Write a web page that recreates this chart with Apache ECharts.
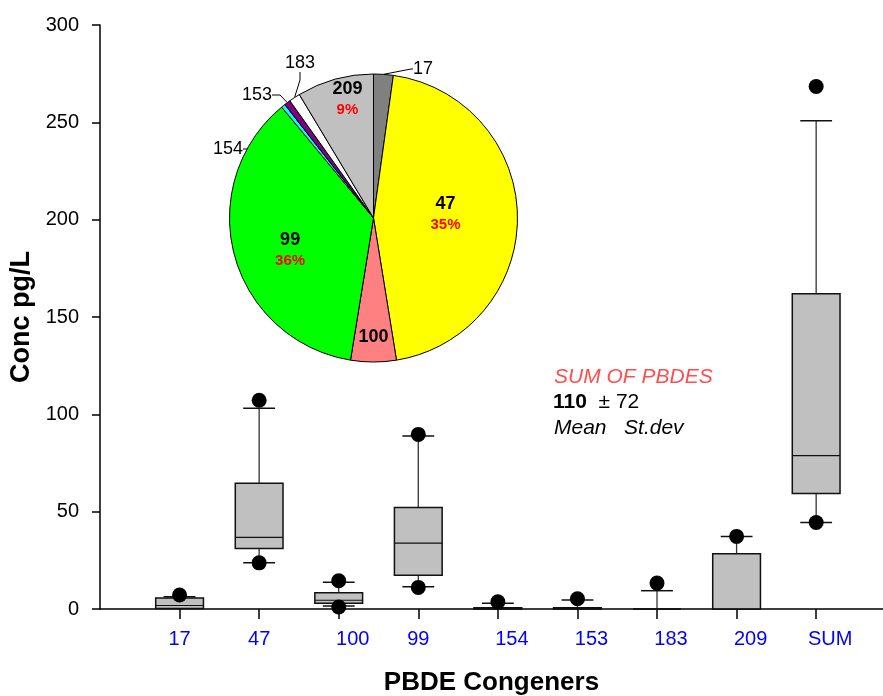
<!DOCTYPE html>
<html>
<head>
<meta charset="utf-8">
<title>PBDE Congeners</title>
<script src="https://cdn.jsdelivr.net/npm/echarts@6/dist/echarts.min.js"></script>
<style>
  html, body { margin: 0; padding: 0; background: #ffffff; }
  #chart { width: 883px; height: 696px; }
</style>
</head>
<body>
<div id="chart"></div>
<script>
// Congeners on the x axis, in plotting order
const categories = ['17', '47', '100', '99', '154', '153', '183', '209', 'SUM'];

// Box plot statistics, pg/L (null = not drawn)
const whiskerLow  = [null, 23.7, 1.5, 11.4, null, null, null, null, 44.4];
const quartile1   = [0.3, 31.1, 2.9, 17.4, 0, 0, 0, 0, 59.3];
const median      = [1.8, 36.8, 4.5, 33.8, 0.2, 0.3, 0, 0, 78.8];
const quartile3   = [5.6, 64.6, 8.4, 52.2, 0.6, 0.7, 0, 28.4, 161.9];
const whiskerHigh = [6.3, 103.1, 13.8, 88.9, 2.9, 4.6, 9.4, 37.3, 250.8];
const outlierLow  = [null, 23.7, 1.0, 11.1, null, null, null, null, 44.4];
const outlierHigh = [7.2, 107.2, 14.5, 89.7, 3.7, 5.3, 13.3, 37.3, 268.4];

// Composition of the sum (inset pie), share in %
const pieNames  = ['17', '47', '100', '99', '154', '153', '183', '209'];
const pieShare  = [2.2, 45.2, 5.1, 36.4, 0.45, 0.7, 1.25, 8.6];
const pieColors = ['#808080', '#ffff00', '#ff8080', '#00ff00', '#00ffff', '#800080', '#ffffff', '#c0c0c0'];
const piePctText = ['', '35%', '', '36%', '', '', '', '9%'];
const pieInside  = [false, true, true, true, false, false, false, true];

// Summary of the total
const sumTitle = 'SUM OF PBDES';
const sumMean = 110;
const sumStdev = 72;

const FONT = '"Liberation Sans", Arial, Helvetica, sans-serif';

const chart = echarts.init(document.getElementById('chart'), null, { renderer: 'canvas' });

const boxData = categories.map((c, k) => [k + 1, whiskerLow[k], quartile1[k], median[k], quartile3[k], whiskerHigh[k]]);
const dotData = [];
categories.forEach((c, k) => {
  if (outlierHigh[k] != null) dotData.push([k + 1, outlierHigh[k]]);
  if (outlierLow[k] != null) dotData.push([k + 1, outlierLow[k]]);
});

function renderBox(params, api) {
  const i = api.value(0);
  const lo = api.value(1), b1 = api.value(2), md = api.value(3), b3 = api.value(4), hi = api.value(5);
  const band = api.size([1, 0])[0];
  const hb = band * 0.3;   // half box width
  const hc = band * 0.2;   // half cap width
  const pTop = api.coord([i, b3]);
  const pBot = api.coord([i, b1]);
  const pMed = api.coord([i, md]);
  const cx = pTop[0];
  const whisker = { stroke: '#333333', lineWidth: 1.3 };
  const cap = { stroke: '#111111', lineWidth: 1.5 };
  const kids = [];
  if (!isNaN(hi)) {
    const pHi = api.coord([i, hi]);
    kids.push({ type: 'line', shape: { x1: cx, y1: pTop[1], x2: cx, y2: pHi[1] }, style: whisker });
    kids.push({ type: 'line', shape: { x1: cx - hc, y1: pHi[1], x2: cx + hc, y2: pHi[1] }, style: cap });
  }
  if (!isNaN(lo)) {
    const pLo = api.coord([i, lo]);
    kids.push({ type: 'line', shape: { x1: cx, y1: pBot[1], x2: cx, y2: pLo[1] }, style: whisker });
    kids.push({ type: 'line', shape: { x1: cx - hc, y1: pLo[1], x2: cx + hc, y2: pLo[1] }, style: cap });
  }
  kids.push({
    type: 'rect',
    shape: { x: cx - hb, y: pTop[1], width: hb * 2, height: pBot[1] - pTop[1] },
    style: { fill: '#c0c0c0', stroke: '#111111', lineWidth: 1.5 }
  });
  kids.push({ type: 'line', shape: { x1: cx - hb, y1: pMed[1], x2: cx + hb, y2: pMed[1] }, style: { stroke: '#111111', lineWidth: 1.2 } });
  return { type: 'group', children: kids };
}

// label placement for the pie (inside ones nudged, outside ones placed beside the slice)
const pieLabelPlace = {
  0: { x: 413, y: 69, align: 'left', verticalAlign: 'middle' },
  1: { dx: -3, dy: -3 },
  2: { dx: 0, dy: 44 },
  3: { dx: -11, dy: 12 },
  4: { x: 228, y: 149, align: 'center', verticalAlign: 'middle' },
  5: { x: 257, y: 95, align: 'center', verticalAlign: 'middle' },
  6: { x: 300, y: 63, align: 'center', verticalAlign: 'middle' },
  7: { dx: -6, dy: -47 }
};

const pieData = pieNames.map((n, k) => ({
  name: n,
  value: pieShare[k],
  pct: piePctText[k],
  itemStyle: { color: pieColors[k] },
  label: pieInside[k]
    ? { position: 'inside' }
    : { position: 'outside', fontSize: 18, fontWeight: 'normal', color: '#000', fontFamily: FONT },
  labelLine: pieInside[k]
    ? { show: false }
    : { show: true, length: 6, length2: k === 0 ? 2 : 8, lineStyle: { color: '#000', width: 1 } }
}));

const option = {
  animation: false,
  backgroundColor: '#ffffff',
  textStyle: { fontFamily: FONT },
  grid: { left: 100, right: 0, top: 25, bottom: 87, containLabel: false, outerBoundsMode: 'none' },
  xAxis: {
    type: 'value',
    min: 0,
    max: 9.84,
    interval: 1,
    name: 'PBDE Congeners',
    nameLocation: 'middle',
    nameGap: 61,
    nameTextStyle: { fontSize: 26, fontWeight: 'bold', color: '#000', fontFamily: FONT },
    axisLine: { show: true, lineStyle: { color: '#000', width: 1.5 } },
    axisTick: { show: true, inside: false, length: 10, lineStyle: { color: '#000', width: 1.5 } },
    axisLabel: {
      margin: 20,
      color: '#0000ff',
      fontSize: 20,
      fontFamily: FONT,
      showMinLabel: false,
      showMaxLabel: false,
      formatter: function (v) {
        const k = Math.round(v) - 1;
        if (k < 0 || k >= categories.length || Math.abs(v - k - 1) > 1e-6) return '';
        const t = categories[k];
        return t.length > 2 ? '{w|' + t + '}' : t;
      },
      rich: { w: { color: '#0000ff', fontSize: 20, fontFamily: FONT, padding: [0, 0, 0, 28] } }
    },
    splitLine: { show: false }
  },
  yAxis: {
    type: 'value',
    min: 0,
    max: 300,
    interval: 50,
    name: 'Conc pg/L',
    nameLocation: 'middle',
    nameRotate: 90,
    nameGap: 56,
    nameTextStyle: { fontSize: 27, fontWeight: 'bold', color: '#000', fontFamily: FONT },
    axisLine: { show: true, lineStyle: { color: '#000', width: 1.5 } },
    axisTick: { show: true, inside: false, length: 8, lineStyle: { color: '#000', width: 1.5 } },
    axisLabel: { margin: 21, color: '#000', fontSize: 20, fontFamily: FONT },
    splitLine: { show: false }
  },
  series: [
    {
      type: 'custom',
      name: 'box',
      renderItem: renderBox,
      data: boxData,
      encode: { x: 0, y: [1, 2, 3, 4, 5] },
      z: 2
    },
    {
      type: 'scatter',
      name: 'outliers',
      data: dotData,
      symbol: 'circle',
      symbolSize: 15,
      itemStyle: { color: '#000', opacity: 1 },
      z: 3
    },
    {
      type: 'pie',
      name: 'composition',
      center: [373.5, 218],
      radius: 144,
      startAngle: 90,
      clockwise: true,
      avoidLabelOverlap: false,
      minShowLabelAngle: 0,
      itemStyle: { borderColor: '#000', borderWidth: 1 },
      emphasis: { disabled: true },
      data: pieData,
      label: {
        show: true,
        fontFamily: FONT,
        formatter: function (p) {
          if (!pieInside[p.dataIndex]) return p.name;
          const pct = p.data.pct;
          return pct ? '{n|' + p.name + '}\n{p|' + pct + '}' : '{n|' + p.name + '}';
        },
        rich: {
          n: { fontSize: 18, fontWeight: 'bold', color: '#000', fontFamily: FONT, lineHeight: 22 },
          p: { fontSize: 15, fontWeight: 'bold', color: '#ff0000', fontFamily: FONT, lineHeight: 20 }
        }
      },
      labelLayout: function (params) {
        return pieLabelPlace[params.dataIndex] || {};
      },
      z: 5
    }
  ],
  graphic: [
    {
      type: 'text',
      x: 554, y: 377,
      style: { text: sumTitle, fill: '#ff4d4d', font: 'italic 21px ' + FONT, verticalAlign: 'middle' }
    },
    {
      type: 'text',
      x: 553, y: 402,
      style: {
        text: '{b|' + sumMean + '}  \u00b1 ' + sumStdev,
        fill: '#000', font: '21px ' + FONT, verticalAlign: 'middle',
        rich: { b: { fontWeight: 'bold', fontSize: 21, fontFamily: FONT, fill: '#000' } }
      }
    },
    {
      type: 'text',
      x: 554, y: 428,
      style: { text: 'Mean   St.dev', fill: '#000', font: 'italic 21px ' + FONT, verticalAlign: 'middle' }
    }
  ]
};

chart.setOption(option);
</script>
</body>
</html>
